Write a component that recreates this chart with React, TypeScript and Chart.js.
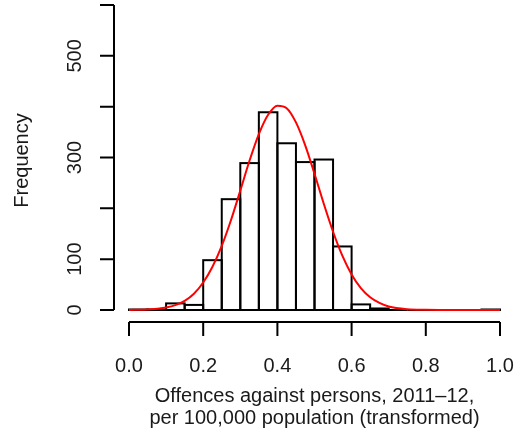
import React, { useEffect, useRef } from "react";
import { Chart, registerables } from "chart.js";

Chart.register(...registerables);

// Histogram bins (left edges, width 0.05) and counts
const binStarts = [0.0, 0.05, 0.1, 0.15, 0.2, 0.25, 0.3, 0.35, 0.4, 0.45, 0.5, 0.55, 0.6, 0.65, 0.7, 0.75, 0.8, 0.85, 0.9, 0.95];
const binCounts = [1, 1, 13, 10, 98, 218, 289, 389, 328, 291, 296, 125, 11, 3, 0, 0, 0, 0, 0, 1];
const binWidth = 0.05;

// Fitted normal curve
const curveX = [0, 0.05, 0.1, 0.125, 0.15, 0.175, 0.2, 0.225, 0.25, 0.275, 0.3, 0.325, 0.35, 0.375, 0.4, 0.425, 0.45, 0.475, 0.5, 0.525, 0.55, 0.575, 0.6, 0.625, 0.65, 0.675, 0.7, 0.75, 0.8, 0.85, 0.9, 0.95, 1.0];
const curveY = [0.2, 1, 5, 9.5, 18, 32, 54, 85, 126, 177, 235, 294, 346, 384, 402, 397, 369, 324, 268, 209, 154, 107, 70, 43, 25, 14, 7, 1.6, 0.3, 0, 0, 0, 0];

const xTicks = [0, 0.2, 0.4, 0.6, 0.8, 1.0];
const xTickLabels = ["0.0", "0.2", "0.4", "0.6", "0.8", "1.0"];
const yTicks = [0, 100, 200, 300, 400, 500, 600];
const yTickLabels = ["0", "100", "", "300", "", "500", ""];

const xTitle = ["Offences against persons, 2011\u201312,", "per 100,000 population (transformed)"];
const yTitle = "Frequency";

const FONT = "20px 'Liberation Sans', Arial, sans-serif";
const TEXT = "#1a1a1a";

const rAxesPlugin = {
  id: "rAxes",
  afterDatasetDraw(chart: any, args: any) {
    if (args.index !== 0) return;
    const meta = chart.getDatasetMeta(0);
    const ctx = chart.ctx;
    ctx.save();
    ctx.strokeStyle = "#000";
    ctx.lineWidth = 2;
    meta.data.forEach((el: any) => {
      const p = el.getProps(["x", "y", "base", "width"], true);
      ctx.strokeRect(p.x - p.width / 2, p.y, p.width, p.base - p.y);
    });
    ctx.restore();
  },
  afterDraw(chart: any) {
    const ctx = chart.ctx;
    const xs = chart.scales.x;
    const ys = chart.scales.y;
    ctx.save();
    ctx.strokeStyle = "#000";
    ctx.lineWidth = 2;
    ctx.lineCap = "butt";
    // x axis
    const xAxisY = ys.getPixelForValue(0) + 12;
    ctx.beginPath();
    ctx.moveTo(xs.getPixelForValue(xTicks[0]), xAxisY);
    ctx.lineTo(xs.getPixelForValue(xTicks[xTicks.length - 1]), xAxisY);
    xTicks.forEach((t) => {
      const px = xs.getPixelForValue(t);
      ctx.moveTo(px, xAxisY);
      ctx.lineTo(px, xAxisY + 14);
    });
    ctx.stroke();
    // y axis
    const yAxisX = xs.getPixelForValue(0) - 15;
    ctx.beginPath();
    ctx.moveTo(yAxisX, ys.getPixelForValue(yTicks[0]));
    ctx.lineTo(yAxisX, ys.getPixelForValue(yTicks[yTicks.length - 1]));
    yTicks.forEach((t) => {
      const py = ys.getPixelForValue(t);
      ctx.moveTo(yAxisX, py);
      ctx.lineTo(yAxisX - 14, py);
    });
    ctx.stroke();

    ctx.fillStyle = TEXT;
    ctx.font = FONT;
    ctx.textAlign = "center";
    ctx.textBaseline = "middle";
    xTicks.forEach((t, i) => {
      ctx.fillText(xTickLabels[i], xs.getPixelForValue(t), xAxisY + 44);
    });
    const cx = (xs.left + xs.right) / 2;
    ctx.fillText(xTitle[0], cx, xAxisY + 74);
    ctx.fillText(xTitle[1], cx, xAxisY + 96);

    yTicks.forEach((t, i) => {
      if (!yTickLabels[i]) return;
      ctx.save();
      ctx.translate(yAxisX - 39, ys.getPixelForValue(t));
      ctx.rotate(-Math.PI / 2);
      ctx.fillText(yTickLabels[i], 0, 0);
      ctx.restore();
    });
    ctx.save();
    ctx.translate(yAxisX - 92, (ys.top + ys.bottom) / 2 + 3);
    ctx.rotate(-Math.PI / 2);
    ctx.fillText(yTitle, 0, 0);
    ctx.restore();
    ctx.restore();
  },
};

export default function App() {
  const ref = useRef<HTMLCanvasElement | null>(null);
  useEffect(() => {
    document.body.style.margin = "0";
    document.body.style.background = "#fff";
    const canvas = ref.current;
    if (!canvas) return;
    const chart = new Chart(canvas, {
      data: {
        datasets: [
          {
            type: "bar",
            data: binStarts.map((s, i) => ({ x: s + binWidth / 2, y: binCounts[i] })),
            backgroundColor: "#ffffff",
            borderWidth: 0,
            barPercentage: 1,
            categoryPercentage: 1,
            order: 1,
          } as any,
          {
            type: "line",
            data: curveX.map((x, i) => ({ x, y: curveY[i] })),
            borderColor: "#ff0000",
            borderWidth: 2,
            pointRadius: 0,
            tension: 0.4,
            cubicInterpolationMode: "monotone",
            fill: false,
            clip: false,
            order: 0,
          } as any,
        ],
      },
      options: {
        animation: false,
        responsive: false,
        devicePixelRatio: 1,
        layout: { padding: { left: 129, right: 19, top: 5, bottom: 126 } },
        plugins: { legend: { display: false }, tooltip: { enabled: false } },
        scales: {
          x: { type: "linear", min: 0, max: 1, display: false, offset: false },
          y: { type: "linear", min: 0, max: 600, display: false },
        },
      },
      plugins: [rAxesPlugin],
    } as any);
    return () => chart.destroy();
  }, []);
  return (
    <div style={{ position: "absolute", left: 0, top: 0, width: 519, height: 436, background: "#fff" }}>
      <canvas ref={ref} width={519} height={436} />
    </div>
  );
}
